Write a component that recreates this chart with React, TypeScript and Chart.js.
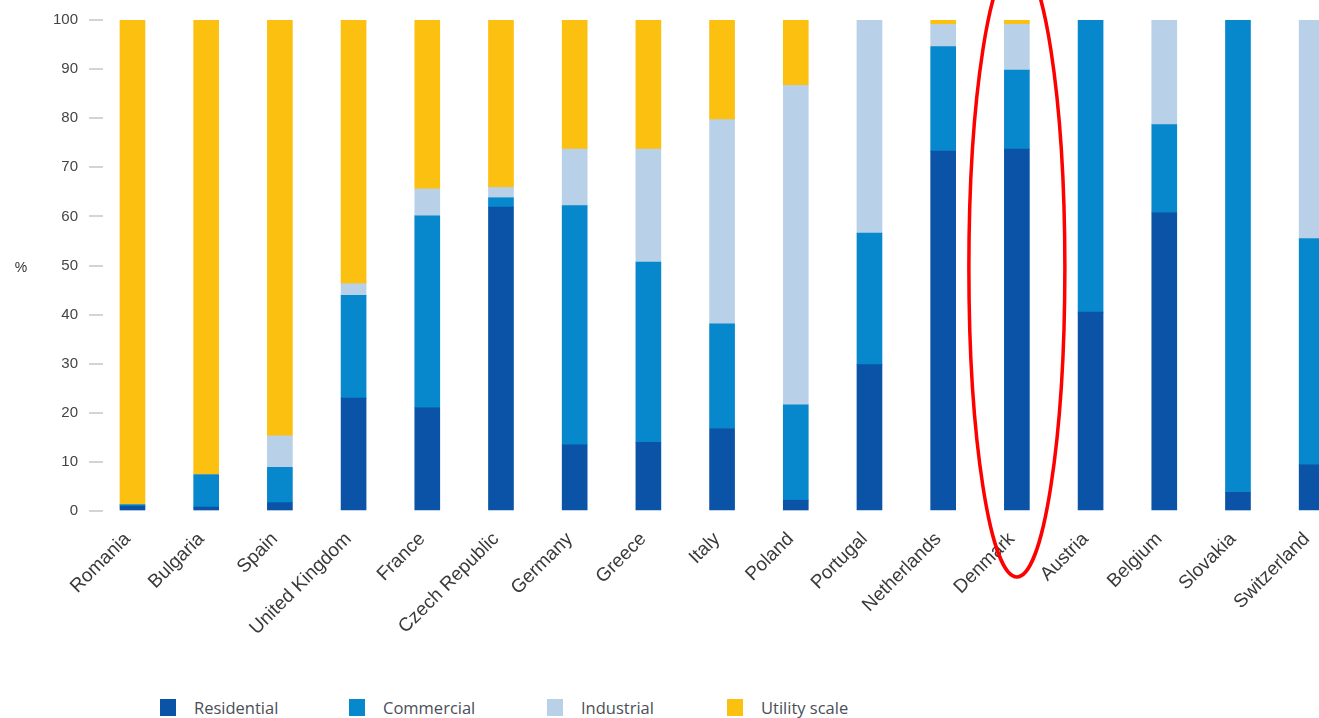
import React, { useEffect, useRef } from 'react';
import { Chart, registerables } from 'chart.js';
Chart.register(...registerables);

const countries = ['Romania', 'Bulgaria', 'Spain', 'United Kingdom', 'France', 'Czech Republic', 'Germany', 'Greece', 'Italy', 'Poland', 'Portugal', 'Netherlands', 'Denmark', 'Austria', 'Belgium', 'Slovakia', 'Switzerland'];
const residential = [1.0, 0.8, 1.7, 23.0, 21.0, 61.9, 13.5, 14.0, 16.8, 2.2, 29.8, 73.3, 73.7, 40.5, 60.8, 3.8, 9.4];
const commercial = [0.3, 6.6, 7.2, 20.9, 39.1, 1.9, 48.7, 36.7, 21.3, 19.4, 26.8, 21.3, 16.1, 59.5, 17.9, 96.2, 46.1];
const industrial = [0, 0, 6.4, 2.4, 5.5, 2.1, 11.5, 23.0, 41.6, 65.1, 43.4, 4.5, 9.3, 0, 21.3, 0, 44.5];
const utility = [98.7, 92.6, 84.7, 53.7, 34.4, 34.1, 26.3, 26.3, 20.3, 13.3, 0, 0.9, 0.9, 0, 0, 0, 0];
const seriesNames = ['Residential', 'Commercial', 'Industrial', 'Utility scale'];
const seriesColors = ['#0a53a6', '#0787cc', '#b8d0e8', '#fcc010'];
const yTicks = [0, 10, 20, 30, 40, 50, 60, 70, 80, 90, 100];
const highlighted = 'Denmark';
const legendLefts = [160, 349, 547, 727];

const annotPlugin = {
  id: 'annot',
  afterDraw(chart: any) {
    const ctx = chart.ctx;
    const xs = chart.scales.x;
    const ys = chart.scales.y;
    ctx.save();
    ctx.font = '14px "Liberation Sans", Arial, sans-serif';
    ctx.fillStyle = '#333';
    ctx.textAlign = 'center';
    ctx.textBaseline = 'middle';
    ctx.fillText('%', 21, ys.getPixelForValue(49.5));
    const cx = xs.getPixelForValue(countries.indexOf(highlighted));
    ctx.beginPath();
    ctx.ellipse(cx, ys.getPixelForValue(49.5), 48, 309, 0, 0, Math.PI * 2);
    ctx.strokeStyle = '#ff0000';
    ctx.lineWidth = 3.5;
    ctx.stroke();
    ctx.restore();
  },
};

export default function App() {
  const ref = useRef<HTMLCanvasElement>(null);
  useEffect(() => {
    document.body.style.margin = '0';
    const series = [residential, commercial, industrial, utility];
    const chart = new Chart(ref.current!, {
      type: 'bar',
      data: {
        datasets: series.map((vals, si) => ({
          label: seriesNames[si],
          data: vals.map((v, i) => ({ x: i, y: v })),
          backgroundColor: seriesColors[si],
          barThickness: 25,
          borderWidth: 0,
        })),
      },
      plugins: [annotPlugin],
      options: {
        animation: false,
        responsive: true,
        maintainAspectRatio: false,
        layout: { padding: { top: 11, left: 0, right: 0, bottom: 0 } },
        plugins: { legend: { display: false }, tooltip: { enabled: false } },
        scales: {
          x: {
            type: 'linear',
            stacked: true,
            offset: false,
            min: -0.4,
            max: 16.9,
            grid: { display: false, offset: false },
            border: { display: false },
            afterFit: (s: any) => { s.height = 179; s.paddingLeft = 0; s.paddingRight = 0; },
            afterBuildTicks: (s: any) => {
              s.ticks = countries.map((_, i) => ({ value: i }));
            },
            ticks: {
              autoSkip: false,
              minRotation: 45,
              maxRotation: 45,
              padding: 9,
              labelOffset: -5,
              color: '#3a3a3a',
              font: { family: '"Liberation Sans", Arial, sans-serif', size: 19 },
              callback: (v: any) => countries[v] ?? '',
            },
          },
          y: {
            stacked: true,
            min: 0,
            max: 100,
            afterFit: (s: any) => { s.width = 103; },
            afterBuildTicks: (s: any) => {
              s.ticks = yTicks.map((v) => ({ value: v }));
            },
            grid: { drawOnChartArea: false, drawTicks: true, tickLength: 14, color: '#d4d4d4', lineWidth: 2 },
            border: { display: false },
            ticks: {
              padding: 11,
              color: '#444',
              font: { family: '"Liberation Sans", Arial, sans-serif', size: 15 },
            },
          },
        },
      },
    });
    return () => chart.destroy();
  }, []);

  return (
    <div style={{ position: 'fixed', left: 0, top: 0, width: 1319, height: 718, overflow: 'hidden', background: '#fff' }}>
      <div style={{ position: 'absolute', left: 0, top: 0, width: 1378, height: 690 }}>
        <canvas ref={ref} />
      </div>
      {seriesNames.map((name, i) => (
        <div key={name} style={{ position: 'absolute', left: legendLefts[i], top: 697, height: 20, display: 'flex', alignItems: 'center' }}>
          <div style={{ width: 16, height: 17, background: seriesColors[i] }} />
          <span style={{ marginLeft: 18, fontFamily: '"Open Sans", sans-serif', fontSize: 16.5, color: '#4a4f57', whiteSpace: 'nowrap' }}>{name}</span>
        </div>
      ))}
    </div>
  );
}
